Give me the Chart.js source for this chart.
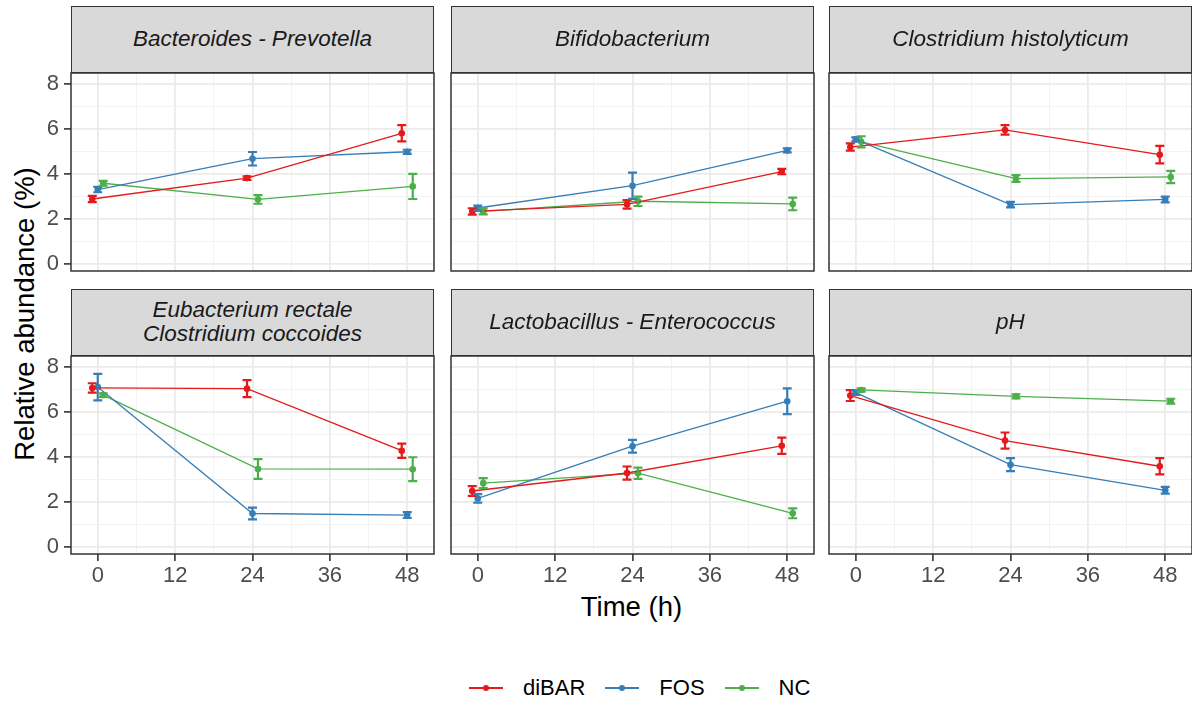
<!DOCTYPE html>
<html>
<head>
<meta charset="utf-8">
<script src="https://cdn.jsdelivr.net/npm/chart.js@4.4.1/dist/chart.umd.min.js"></script>
<style>
  html, body { margin: 0; padding: 0; background: #fff; }
  body { width: 1192px; height: 706px; position: relative; overflow: hidden; font-family: "Liberation Sans", Arial, sans-serif; }
  canvas { position: absolute; }
  .strip { position: absolute; box-sizing: border-box; background: #D9D9D9; border: 1.5px solid #333; display: flex; align-items: center; justify-content: center; text-align: center; font-style: italic; font-size: 22.5px; line-height: 1.1; color: #1A1A1A; z-index: 2; }
  .title { position: absolute; font-size: 27.5px; color: #000; white-space: nowrap; }
  #ytitle { left: 24.5px; top: 314px; transform: translate(-50%, -50%) rotate(-90deg); }
  #xtitle { left: 631.5px; top: 607px; transform: translate(-50%, -50%); }
  #legend { position: absolute; left: 469px; top: 688px; transform: translateY(-50%); display: flex; align-items: center; font-size: 22px; color: #000; }
  .key { position: relative; width: 34px; height: 20px; margin-right: 20px; }
  .key .ln { position: absolute; left: 0; right: 0; top: 9px; height: 2px; }
  .key .pt { position: absolute; left: 14px; top: 7px; width: 6px; height: 6px; border-radius: 50%; }
  .lab { margin-right: 20px; }
</style>
</head>
<body>
<div id="ytitle" class="title">Relative abundance (%)</div>
<div id="xtitle" class="title">Time (h)</div>
<div id="legend"></div>
<script>
const times = [0, 24, 48];
const treatments = ['diBAR', 'FOS', 'NC'];
const treatmentColors = ['#E41A1C', '#377EB8', '#4DAF4A'];
const dodge = [-0.85, 0, 0.85];
const xTicks = [0, 12, 24, 36, 48];
const yTicks = [0, 2, 4, 6, 8];

const panelTitles = [
  'Bacteroides - Prevotella',
  'Bifidobacterium',
  'Clostridium histolyticum',
  'Eubacterium rectale<br>Clostridium coccoides',
  'Lactobacillus - Enterococcus',
  'pH'
];

// rows: diBAR, FOS, NC ; columns: 0 h, 24 h, 48 h
const bacteroidesMean = [[2.90, 3.83, 5.82], [3.32, 4.69, 5.00], [3.60, 2.88, 3.46]];
const bacteroidesErr  = [[0.14, 0.08, 0.36], [0.12, 0.30, 0.09], [0.11, 0.19, 0.56]];
const bifidoMean      = [[2.35, 2.66, 4.12], [2.50, 3.49, 5.06], [2.35, 2.80, 2.68]];
const bifidoErr       = [[0.14, 0.19, 0.12], [0.11, 0.58, 0.09], [0.13, 0.21, 0.28]];
const histolyticMean  = [[5.21, 5.97, 4.87], [5.55, 2.65, 2.88], [5.44, 3.81, 3.88]];
const histolyticErr   = [[0.16, 0.21, 0.39], [0.09, 0.12, 0.13], [0.25, 0.15, 0.27]];
const eubactMean      = [[7.08, 7.05, 4.29], [7.12, 1.50, 1.43], [6.76, 3.48, 3.47]];
const eubactErr       = [[0.21, 0.38, 0.32], [0.59, 0.26, 0.13], [0.08, 0.44, 0.53]];
const lactoMean       = [[2.50, 3.30, 4.51], [2.17, 4.49, 6.49], [2.85, 3.29, 1.51]];
const lactoErr        = [[0.22, 0.29, 0.36], [0.19, 0.28, 0.57], [0.22, 0.25, 0.22]];
const phMean          = [[6.74, 4.74, 3.60], [6.87, 3.67, 2.53], [6.99, 6.71, 6.49]];
const phErr           = [[0.24, 0.36, 0.36], [0.10, 0.29, 0.15], [0.07, 0.09, 0.11]];

const panelMeans = [bacteroidesMean, bifidoMean, histolyticMean, eubactMean, lactoMean, phMean];
const panelErrs  = [bacteroidesErr, bifidoErr, histolyticErr, eubactErr, lactoErr, phErr];

// layout of the panel areas
const colLeft = [71, 451, 829];
const rowTop = [73, 356];
const panelW = 363, panelH = 198;
const stripH = 67.5;
const PAD = 25, Y_W = 50, X_H = 40;

const errorBars = {
  id: 'errorBars',
  afterDatasetsDraw(chart) {
    const ctx = chart.ctx, ys = chart.scales.y;
    chart.data.datasets.forEach((ds, i) => {
      const meta = chart.getDatasetMeta(i);
      ctx.save();
      ctx.strokeStyle = ds.borderColor;
      ctx.lineWidth = 2.2;
      meta.data.forEach((pt, j) => {
        const v = ds.data[j].y, e = ds.errors[j];
        const top = ys.getPixelForValue(v + e), bot = ys.getPixelForValue(v - e);
        ctx.beginPath();
        ctx.moveTo(pt.x, top); ctx.lineTo(pt.x, bot);
        ctx.moveTo(pt.x - 4.5, top); ctx.lineTo(pt.x + 4.5, top);
        ctx.moveTo(pt.x - 4.5, bot); ctx.lineTo(pt.x + 4.5, bot);
        ctx.stroke();
      });
      ctx.restore();
    });
  }
};

const panelBorder = {
  id: 'panelBorder',
  afterDraw(chart) {
    const a = chart.chartArea, ctx = chart.ctx;
    ctx.save();
    ctx.strokeStyle = '#333';
    ctx.lineWidth = 1.5;
    ctx.strokeRect(a.left, a.top, a.right - a.left, a.bottom - a.top);
    ctx.restore();
  }
};

const isMajor = (list, v) => list.some(t => Math.abs(t - v) < 1e-6);

panelTitles.forEach((title, p) => {
  const col = p % 3, row = Math.floor(p / 3);
  const showY = col === 0, showX = row === 1;
  const yW = showY ? Y_W : 0, xH = showX ? X_H : 0;
  const L = colLeft[col], T = rowTop[row];

  const strip = document.createElement('div');
  strip.className = 'strip';
  strip.innerHTML = title;
  Object.assign(strip.style, { left: L + 'px', top: (T - stripH) + 'px', width: panelW + 'px', height: stripH + 'px' });
  document.body.appendChild(strip);

  const cv = document.createElement('canvas');
  cv.width = panelW + 2 * PAD + yW;
  cv.height = panelH + 2 * PAD + xH;
  cv.style.left = (L - PAD - yW) + 'px';
  cv.style.top = (T - PAD) + 'px';
  document.body.appendChild(cv);

  const datasets = treatments.map((name, k) => ({
    label: name,
    data: times.map((t, j) => ({ x: t + dodge[k], y: panelMeans[p][k][j] })),
    errors: panelErrs[p][k],
    borderColor: treatmentColors[k],
    backgroundColor: treatmentColors[k],
    borderWidth: 1.3,
    pointRadius: 3.3,
    pointBorderWidth: 0,
    tension: 0
  }));

  new Chart(cv, {
    type: 'line',
    data: { datasets },
    plugins: [errorBars, panelBorder],
    options: {
      responsive: false,
      animation: false,
      devicePixelRatio: 1,
      layout: { padding: PAD },
      plugins: { legend: { display: false }, tooltip: { enabled: false } },
      scales: {
        x: {
          type: 'linear',
          min: -4.15, max: 52.15,
          afterFit: s => { s.height = xH; },
          border: { display: false },
          grid: {
            color: c => isMajor(xTicks, c.tick.value) ? '#EBEBEB' : '#F2F2F2',
            lineWidth: c => isMajor(xTicks, c.tick.value) ? 1.8 : 0.9,
            drawTicks: showX,
            tickLength: 7,
            tickWidth: 1.6,
            tickColor: c => isMajor(xTicks, c.tick.value) ? '#333' : 'rgba(0,0,0,0)'
          },
          ticks: {
            display: showX,
            stepSize: 6,
            includeBounds: false,
            maxRotation: 0,
            autoSkip: false,
            padding: 2,
            color: '#4D4D4D',
            font: { family: 'Liberation Sans', size: 22 },
            callback: v => isMajor(xTicks, v) ? String(Math.round(v)) : ''
          }
        },
        y: {
          type: 'linear',
          min: -0.3, max: 8.5,
          afterFit: s => { s.width = yW; },
          border: { display: false },
          grid: {
            color: c => isMajor(yTicks, c.tick.value) ? '#EBEBEB' : '#F2F2F2',
            lineWidth: c => isMajor(yTicks, c.tick.value) ? 1.8 : 0.9,
            drawTicks: showY,
            tickLength: 7,
            tickWidth: 1.6,
            tickColor: c => isMajor(yTicks, c.tick.value) ? '#333' : 'rgba(0,0,0,0)'
          },
          ticks: {
            display: showY,
            stepSize: 1,
            includeBounds: false,
            autoSkip: false,
            padding: 5,
            color: '#4D4D4D',
            font: { family: 'Liberation Sans', size: 22 },
            callback: v => isMajor(yTicks, v) ? String(Math.round(v)) : ''
          }
        }
      }
    }
  });
});

// legend
const legend = document.getElementById('legend');
treatments.forEach((name, k) => {
  const key = document.createElement('div');
  key.className = 'key';
  key.innerHTML = '<div class="ln" style="background:' + treatmentColors[k] + '"></div><div class="pt" style="background:' + treatmentColors[k] + '"></div>';
  const lab = document.createElement('span');
  lab.className = 'lab';
  lab.textContent = name;
  legend.appendChild(key);
  legend.appendChild(lab);
});
</script>
</body>
</html>
